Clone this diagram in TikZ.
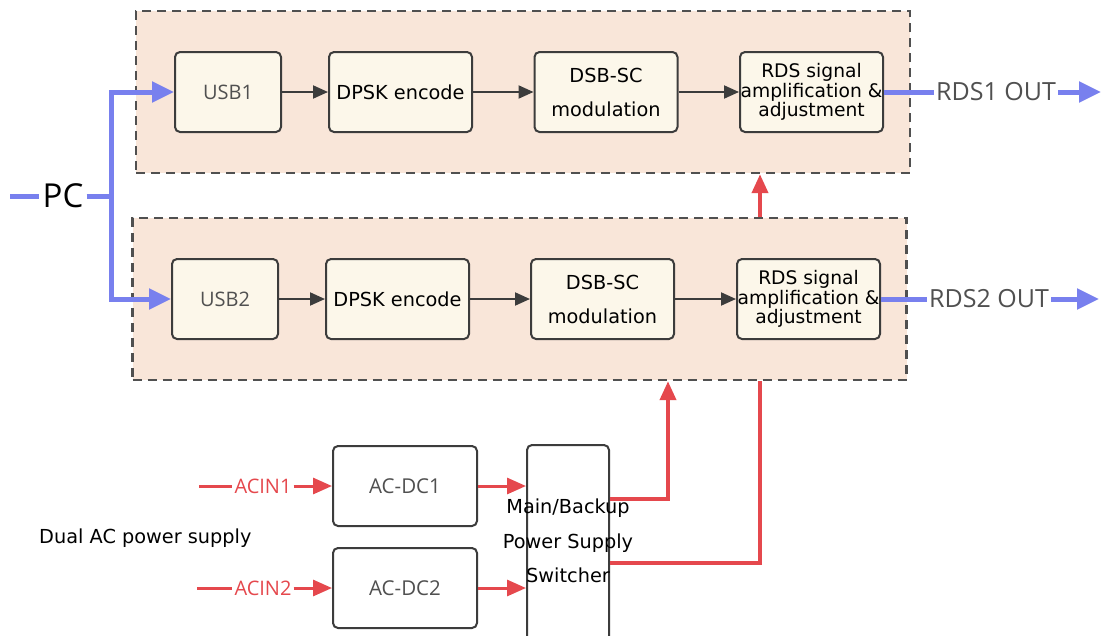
\documentclass[tikz,border=0pt]{standalone}
\usepackage{fontspec}
\setmainfont{DejaVu Sans}
\newfontfamily\grayf{Open Sans}
\usetikzlibrary{arrows.meta,calc}
\definecolor{peach}{HTML}{F9E6D9}
\definecolor{boxfill}{HTML}{FCF7EA}
\definecolor{edge}{HTML}{3C3C3C}
\definecolor{blueln}{HTML}{7880EE}
\definecolor{redln}{HTML}{E5484D}
\definecolor{graytxt}{HTML}{505050}
\tikzset{
  container/.style={draw=edge!90, fill=peach, line width=2.4pt, dash pattern=on 9pt off 6pt, minimum width=774pt, minimum height=162pt, inner sep=0pt},
  blk/.style={draw=edge, fill=boxfill, line width=2pt, rounded corners=5pt, minimum width=143pt, minimum height=80pt, inner sep=1pt, align=center, font=\fontsize{19.3}{34}\selectfont},
  usbblk/.style={blk, minimum width=106pt, font=\grayf\fontsize{20}{22}\selectfont, text=graytxt},
  rdsblk/.style={blk, inner sep=0pt, font=\fontsize{18.7}{19.5}\selectfont},
  acblk/.style={draw=edge, fill=white, line width=2pt, rounded corners=5pt, minimum width=144pt, minimum height=80pt, inner sep=1pt, font=\grayf\fontsize{20.5}{22}\selectfont, text=graytxt},
  sigarrow/.style={draw=edge, line width=2pt, -{Triangle[length=15pt,width=13pt]}},
  blueline/.style={draw=blueln, line width=5pt},
  bluearrow/.style={blueline, -{Triangle[length=22pt,width=20pt]}},
  redline/.style={draw=redln, line width=4pt},
  redarrow/.style={redline, -{Triangle[length=19pt,width=16pt]}},
  outtxt/.style={font=\grayf\fontsize{25}{27}\selectfont, text=graytxt, inner sep=2pt},
  actxt/.style={font=\grayf\fontsize{20}{22}\selectfont, text=redln, inner sep=2pt},
}
\newcommand{\ampline}{\makebox[130pt]{amplification \&}}
\begin{document}
\begin{tikzpicture}[x=1pt,y=-1pt]
\useasboundingbox (0,0) rectangle (1102,635);
\fill[white] (0,0) rectangle (1102,635);
% containers
\node[container] (ctop) at (523,92) {};
\node[container] (cbot) at (519.5,299) {};
% top chain
\node[usbblk] (usb1) at (228,92) {USB1};
\node[blk] (dpsk1) at (400.5,92) {DPSK encode};
\node[blk] (dsb1) at (606,92) {DSB-SC\\modulation};
\node[rdsblk] (rds1) at (811.5,92) {RDS signal\\\ampline\\adjustment};
\draw[sigarrow] (usb1) -- (dpsk1);
\draw[sigarrow] (dpsk1) -- (dsb1);
\draw[sigarrow] (dsb1) -- (rds1);
% bottom chain
\node[usbblk] (usb2) at (225,299) {USB2};
\node[blk] (dpsk2) at (397.5,299) {DPSK encode};
\node[blk] (dsb2) at (602.5,299) {DSB-SC\\modulation};
\node[rdsblk] (rds2) at (808.5,299) {RDS signal\\\ampline\\adjustment};
\draw[sigarrow] (usb2) -- (dpsk2);
\draw[sigarrow] (dpsk2) -- (dsb2);
\draw[sigarrow] (dsb2) -- (rds2);
% outputs
\node[outtxt] (out1) at (996,92) {RDS1 OUT};
\node[outtxt] (out2) at (989,299) {RDS2 OUT};
\coordinate (out1end) at (1101,92);
\coordinate (out2end) at (1099,299);
\draw[blueline] (rds1.east) -- (out1.west);
\draw[bluearrow] (out1.east) -- (out1end);
\draw[blueline] (rds2.east) -- (out2.west);
\draw[bluearrow] (out2.east) -- (out2end);
% PC
\node[font=\grayf\fontsize{33}{34}\selectfont, text=black, inner sep=3pt] (pc) at (63,196) {PC};
\coordinate (pcl) at (10,196);
\coordinate (split) at (111,196);
\draw[blueline] (pcl) -- (pc.west);
\draw[blueline] (pc.east) -- (split);
\draw[bluearrow] (split) |- (usb1.west);
\draw[bluearrow] (split) |- (usb2.west);
% power section
\node[acblk] (acdc1) at (405,486) {AC-DC1};
\node[acblk] (acdc2) at (405,588) {AC-DC2};
\node[draw=edge, line width=2pt, rounded corners=5pt, minimum width=82pt, minimum height=196pt, inner sep=0pt] (sw) at (568,543) {};
\node[align=center, font=\fontsize{19.3}{34.5}\selectfont, inner sep=0pt] (swtxt) at (568,541) {Main/Backup\\Power Supply\\Switcher};
\node[font=\fontsize{19.3}{20}\selectfont, anchor=west, inner sep=0pt] (dual) at (39,538) {Dual AC power supply};
\node[actxt] (acin1) at (263,486) {ACIN1};
\node[actxt] (acin2) at (263,588) {ACIN2};
\coordinate (in1) at (199,486);
\coordinate (in2) at (197,588);
\draw[redline, line width=3pt] (in1) -- (acin1.west);
\draw[redarrow, line width=3pt] (acin1.east) -- (acdc1.west);
\draw[redline, line width=3pt] (in2) -- (acin2.west);
\draw[redarrow, line width=3pt] (acin2.east) -- (acdc2.west);
\draw[redarrow, line width=3pt] (acdc1.east) -- (acdc1.east -| sw.west);
\draw[redarrow, line width=3pt] (acdc2.east) -- (acdc2.east -| sw.west);
\coordinate (o1) at (sw.east |- 0,499);
\coordinate (o2) at (sw.east |- 0,563);
\coordinate (p1) at (668,0 |- cbot.south);
\coordinate (p2) at (760,0 |- cbot.south);
\coordinate (q1) at (760,0 |- cbot.north);
\coordinate (q2) at (760,0 |- ctop.south);
\draw[redarrow] (o1) -| (p1);
\draw[redline] (o2) -| (p2);
\draw[redarrow] (q1) -- (q2);
\end{tikzpicture}
\end{document}
